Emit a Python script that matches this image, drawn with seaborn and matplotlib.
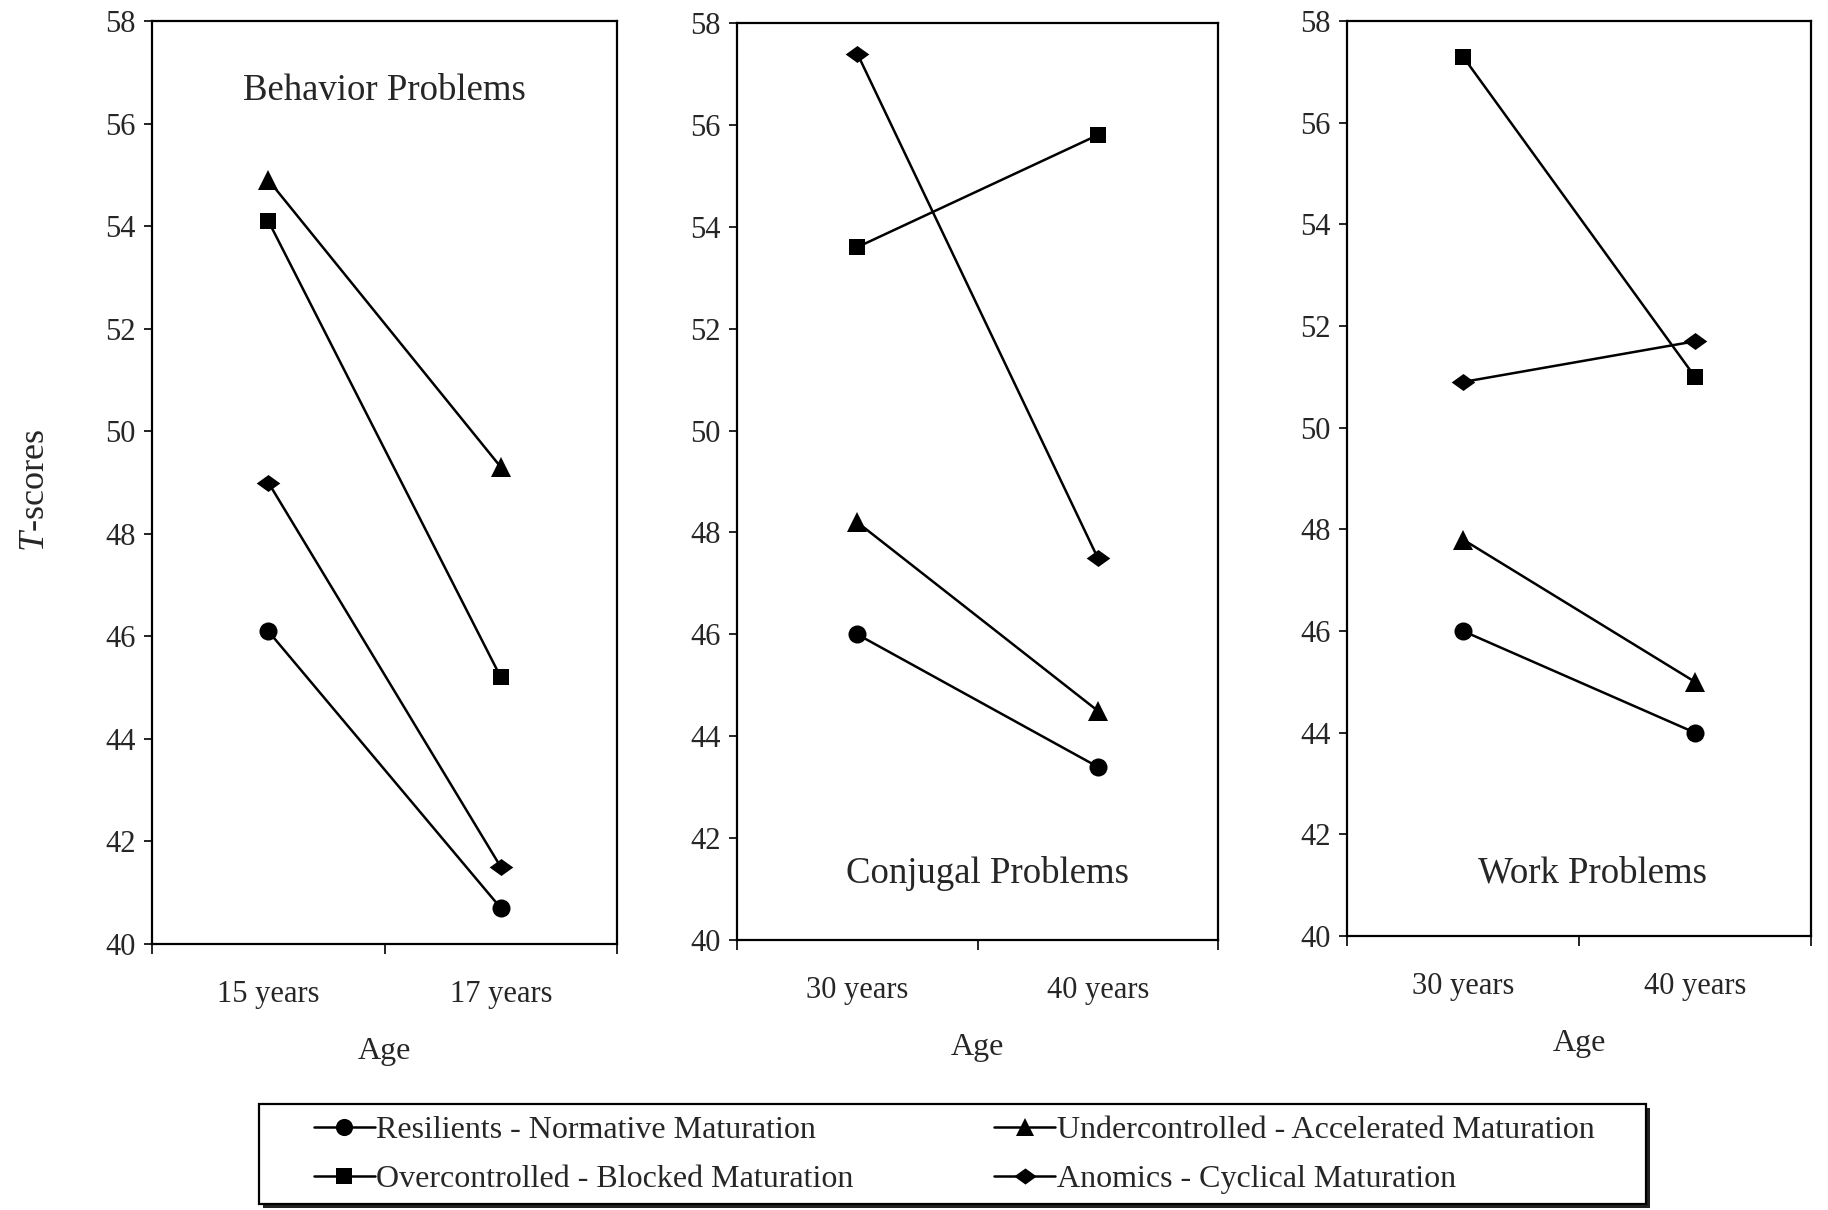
import matplotlib
matplotlib.use("Agg")
import matplotlib.pyplot as plt
from matplotlib.lines import Line2D
from matplotlib.patches import Rectangle
import seaborn as sns
import pandas as pd

# Dados
groups = ["Resilients - Normative Maturation",
          "Undercontrolled - Accelerated Maturation",
          "Overcontrolled - Blocked Maturation",
          "Anomics - Cyclical Maturation"]
panel_titles = ["Behavior Problems", "Conjugal Problems", "Work Problems"]
ages = [["15 years", "17 years"], ["30 years", "40 years"], ["30 years", "40 years"]]

behavior = {"res": [46.1, 40.7], "und": [54.9, 49.3], "ove": [54.1, 45.2], "ano": [49.0, 41.5]}
conjugal = {"res": [46.0, 43.4], "und": [48.2, 44.5], "ove": [53.6, 55.8], "ano": [57.4, 47.5]}
work = {"res": [46.0, 44.0], "und": [47.8, 45.0], "ove": [57.3, 51.0], "ano": [50.9, 51.7]}
panels = [behavior, conjugal, work]
keys = ["res", "und", "ove", "ano"]

# losango achatado como no original
diamond = [(-1, 0), (0, 0.72), (1, 0), (0, -0.72), (-1, 0)]
markers = {groups[0]: "o", groups[1]: "^", groups[2]: "s", groups[3]: diamond}
msize = {groups[0]: 13, groups[1]: 14, groups[2]: 12, groups[3]: 17}

sns.set_theme(style="white")
plt.rcParams["font.family"] = ["Liberation Serif", "DejaVu Serif"]
plt.rcParams["mathtext.fontset"] = "custom"
plt.rcParams["mathtext.it"] = "Liberation Serif:italic"
plt.rcParams["mathtext.rm"] = "Liberation Serif"

fig = plt.figure(figsize=(18.28, 12.10), dpi=100)
positions = [[0.0832, 0.2198, 0.2544, 0.7628],
             [0.4032, 0.2231, 0.2631, 0.7579],
             [0.7369, 0.2264, 0.2538, 0.7562]]
title_pos = [(0.5, 0.924), (0.52, 0.073), (0.53, 0.069)]

for i, vals in enumerate(panels):
    ax = fig.add_axes(positions[i])
    rows = []
    for k, g in zip(keys, groups):
        for j in range(2):
            rows.append({"x": j, "y": vals[k][j], "grupo": g})
    df = pd.DataFrame(rows)
    for g in groups:
        sub = df[df["grupo"] == g]
        sns.lineplot(data=sub, x="x", y="y", ax=ax, color="black", linewidth=1.8,
                     marker=markers[g], markersize=msize[g], markeredgewidth=0,
                     legend=False)
    ax.set_xlim(-0.5, 1.5)
    ax.set_ylim(40, 58)
    ax.set_yticks(range(40, 59, 2))
    ax.set_xticks([0, 1])
    ax.set_xticklabels(ages[i])
    ax.set_xticks([-0.5, 0.5, 1.5], minor=True)
    ax.tick_params(axis="x", which="major", length=0, pad=26, labelsize=22)
    ax.tick_params(axis="x", which="minor", length=7, width=1.2, color="black", bottom=True)
    ax.tick_params(axis="y", length=6, width=1.2, color="black", left=True, pad=6, labelsize=22)
    for s in ax.spines.values():
        s.set_color("black")
        s.set_linewidth(1.6)
    ax.set_xlabel("Age", fontsize=23, labelpad=20)
    ax.set_ylabel("")
    ax.text(title_pos[i][0], title_pos[i][1], panel_titles[i], transform=ax.transAxes,
            ha="center", va="center", fontsize=26.5)

fig.text(35 / 1828, 0.595, r"$T$-scores", rotation=90, ha="center", va="center", fontsize=26)

# moldura da legenda com sombra
box = (259 / 1828, 1 - 1204 / 1210, (1646 - 259) / 1828, 100 / 1210)
shadow = Rectangle((box[0] + 4 / 1828, box[1] - 4 / 1210), box[2], box[3],
                   transform=fig.transFigure, facecolor="#222222", edgecolor="none", zorder=1)
frame = Rectangle((box[0], box[1]), box[2], box[3], transform=fig.transFigure,
                  facecolor="white", edgecolor="black", linewidth=1.6, zorder=2)
fig.patches.extend([shadow, frame])

handles = [Line2D([], [], color="black", linewidth=1.8, marker=markers[g],
                  markersize=msize[g] * 0.95, markeredgewidth=0) for g in groups]
order = [0, 2, 1, 3]
leg = fig.legend([handles[o] for o in order], [groups[o] for o in order],
                 loc="center", bbox_to_anchor=(0.522, 0.0457), ncol=2,
                 fontsize=23, frameon=False, handlelength=1.9, handletextpad=0.05,
                 columnspacing=4.4, borderpad=0.2, labelspacing=0.62)
leg.set_zorder(3)

fig.savefig("out.png", dpi=100)
